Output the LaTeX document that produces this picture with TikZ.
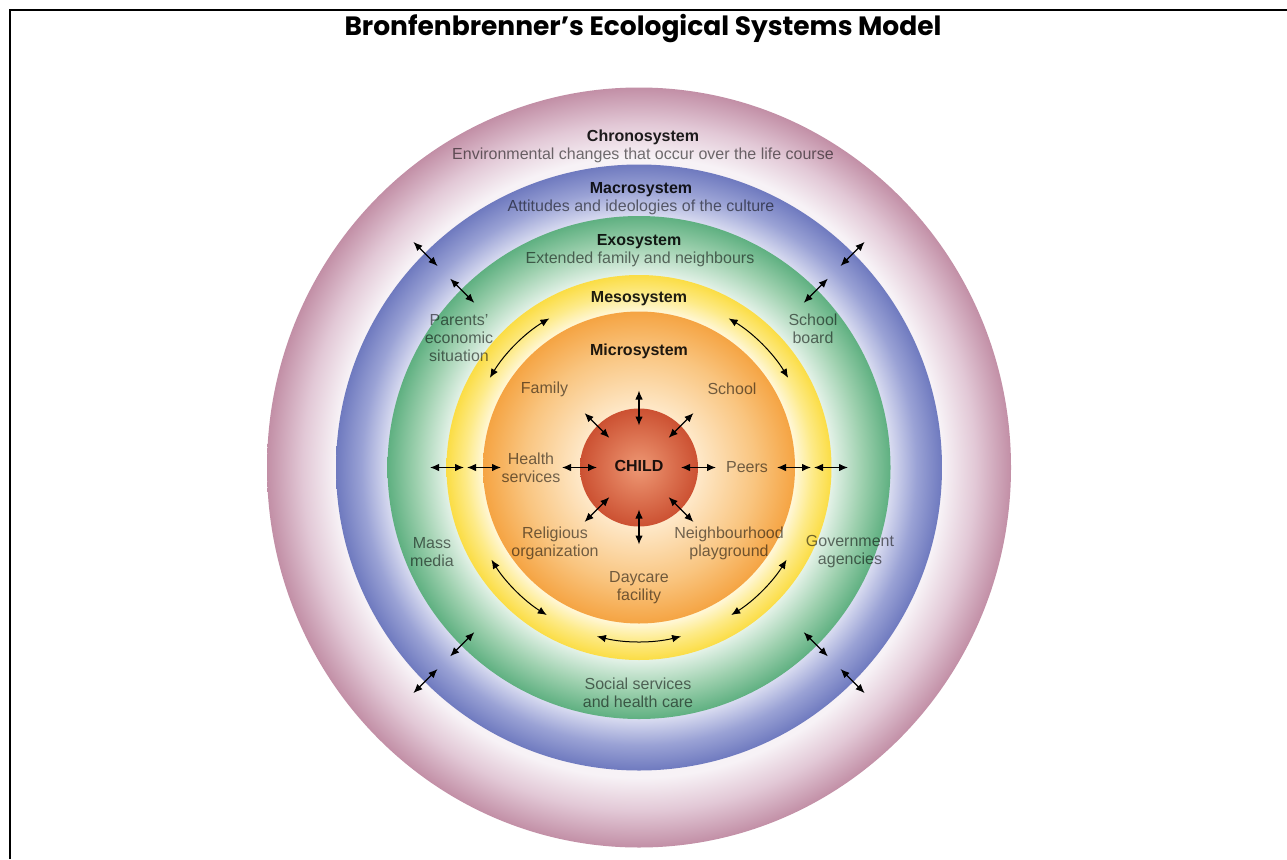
\documentclass[tikz,border=0pt]{standalone}
\usepackage{fontspec}
\setmainfont{Liberation Sans}
\newfontfamily\titlefont{Poppins}
\usetikzlibrary{arrows.meta}

% ring colours: outer edge, middle, inner edge
\definecolor{chroOut}{HTML}{C28FA6}
\definecolor{chroMid}{HTML}{E2C8D6}
\definecolor{chroIn}{HTML}{F7F2F6}
\definecolor{macOut}{HTML}{6F7ABF}
\definecolor{macMid}{HTML}{9AA2D5}
\definecolor{macIn}{HTML}{D8DBF0}
\definecolor{exoOut}{HTML}{5FB081}
\definecolor{exoMid}{HTML}{9DD0AE}
\definecolor{exoIn}{HTML}{E4F2E8}
\definecolor{mesOut}{HTML}{FBDD45}
\definecolor{mesMid}{HTML}{FDEA86}
\definecolor{mesIn}{HTML}{FFF7D6}
\definecolor{micOut}{HTML}{F5A443}
\definecolor{micMid}{HTML}{F9C580}
\definecolor{micIn}{HTML}{FEE8C8}
\definecolor{kidOut}{HTML}{CC5132}
\definecolor{kidIn}{HTML}{EE9874}

% 25bp = outer edge of the shaded disc
\pgfdeclareradialshading{chronoshade}{\pgfpoint{0bp}{0bp}}{color(0bp)=(chroIn); color(20.4bp)=(chroIn); color(22.6bp)=(chroMid); color(25bp)=(chroOut); color(50bp)=(chroOut)}
\pgfdeclareradialshading{macroshade}{\pgfpoint{0bp}{0bp}}{color(0bp)=(macIn); color(20.75bp)=(macIn); color(22.9bp)=(macMid); color(25bp)=(macOut); color(50bp)=(macOut)}
\pgfdeclareradialshading{exoshade}{\pgfpoint{0bp}{0bp}}{color(0bp)=(exoIn); color(19.1bp)=(exoIn); color(22.2bp)=(exoMid); color(25bp)=(exoOut); color(50bp)=(exoOut)}
\pgfdeclareradialshading{mesoshade}{\pgfpoint{0bp}{0bp}}{color(0bp)=(mesIn); color(20.3bp)=(mesIn); color(22.6bp)=(mesMid); color(25bp)=(mesOut); color(50bp)=(mesOut)}
\pgfdeclareradialshading{microshade}{\pgfpoint{0bp}{0bp}}{color(0bp)=(micIn); color(9.5bp)=(micIn); color(18.5bp)=(micMid); color(25bp)=(micOut); color(50bp)=(micOut)}
\pgfdeclareradialshading{childshade}{\pgfpoint{0bp}{0bp}}{color(0bp)=(kidIn); color(25bp)=(kidOut); color(50bp)=(kidOut)}

\tikzset{
  lab/.style={inner sep=0pt, align=center, text=black, text opacity=0.55,
    font=\fontsize{16}{18}\selectfont},
  head/.style={inner sep=0pt, align=center, text=black, text opacity=0.88,
    font=\bfseries\fontsize{16}{18}\selectfont},
  biarr/.style={{Latex[length=9pt,width=7.5pt]}-{Latex[length=9pt,width=7.5pt]},
    line width=1.15pt, black}
}

\begin{document}
\begin{tikzpicture}[x=1pt,y=-1pt]
\useasboundingbox (0,0) rectangle (1287,859);
\fill[white] (0,0) rectangle (1287,859);

% frame
\draw[line width=2.8pt, line join=miter] (10,859) -- (10,10) -- (1287,10);

% title
\node[inner sep=0pt] (title) at (643,29)
  {\titlefont\bfseries\fontsize{26.5}{30}\selectfont Bronfenbrenner’s Ecological Systems Model};

% nested systems
\coordinate (c) at (639,467.5);
\shade[shading=chronoshade] (c) ellipse [x radius=372, y radius=380];
\shade[shading=macroshade] (c) circle [radius=303];
\shade[shading=exoshade] (c) circle [radius=251.5];
\shade[shading=mesoshade] (c) circle [radius=192.5];
\shade[shading=microshade] (c) circle [radius=156];
\shade[shading=childshade] (c) circle [radius=59];

% system names and descriptions
\node[head] (chronoH) at (643,137) {Chronosystem};
\node[lab]  (chronoD) at (643,155) {Environmental changes that occur over the life course};
\node[head] (macroH) at (641,190) {Macrosystem};
\node[lab]  (macroD) at (641,207) {Attitudes and ideologies of the culture};
\node[head] (exoH) at (639,242) {Exosystem};
\node[lab]  (exoD) at (640,259) {Extended family and neighbours};
\node[head] (mesoH) at (639,299) {Mesosystem};
\node[head] (microH) at (639,351) {Microsystem};

% exosystem settings
\node[lab] (parents) at (459,338) {Parents’\\economic\\situation};
\node[lab] (board) at (813,329) {School\\board};
\node[lab] (mass) at (432,552) {Mass\\media};
\node[lab] (gov) at (850,552) {Government\\agencies};
\node[lab] (social) at (638,693) {Social services\\and health care};

% microsystem settings
\node[lab] (family) at (544.5,389) {Family};
\node[lab] (school) at (732,389) {School};
\node[lab] (health) at (531,467.5) {Health\\services};
\node[lab] (peers) at (747,467) {Peers};
\node[lab] (relig) at (555,543) {Religious\\organization};
\node[lab] (neigh) at (729,543) {Neighbourhood\\playground};
\node[lab] (daycare) at (639,587.5) {Daycare\\facility};

\node[head] (child) at (639,466) {CHILD};

% links between the child and the microsystem
\foreach \a in {0,45,...,315}{
  \coordinate (ki\a) at ([shift={(\a:42)}]c);
  \coordinate (ko\a) at ([shift={(\a:77)}]c);
  \draw[biarr] (ki\a) -- (ko\a);
}

% horizontal links through meso- and exosystem
\foreach \a in {0,180}{
  \coordinate (hA\a) at ([shift={(\a:138)}]c);
  \coordinate (hB\a) at ([shift={(\a:172)}]c);
  \coordinate (hC\a) at ([shift={(\a:175)}]c);
  \coordinate (hD\a) at ([shift={(\a:209)}]c);
  \draw[biarr] (hA\a) -- (hB\a);
  \draw[biarr] (hC\a) -- (hD\a);
}

% diagonal links through exo-, macro- and chronosystem
\foreach \a in {45,135,225,315}{
  \coordinate (dA\a) at ([shift={(\a:233)}]c);
  \coordinate (dB\a) at ([shift={(\a:267)}]c);
  \coordinate (dC\a) at ([shift={(\a:285)}]c);
  \coordinate (dD\a) at ([shift={(\a:319)}]c);
  \draw[biarr] (dA\a) -- (dB\a);
  \draw[biarr] (dC\a) -- (dD\a);
}

% curved mesosystem links
\foreach \s/\e in {239/211, 329/301, 148/122, 58/32, 104/76}{
  \coordinate (m\s) at ([shift={(\s:174)}]c);
  \draw[biarr, line width=1pt] (m\s) arc [start angle=\s, end angle=\e, radius=174];
}
\end{tikzpicture}
\end{document}
